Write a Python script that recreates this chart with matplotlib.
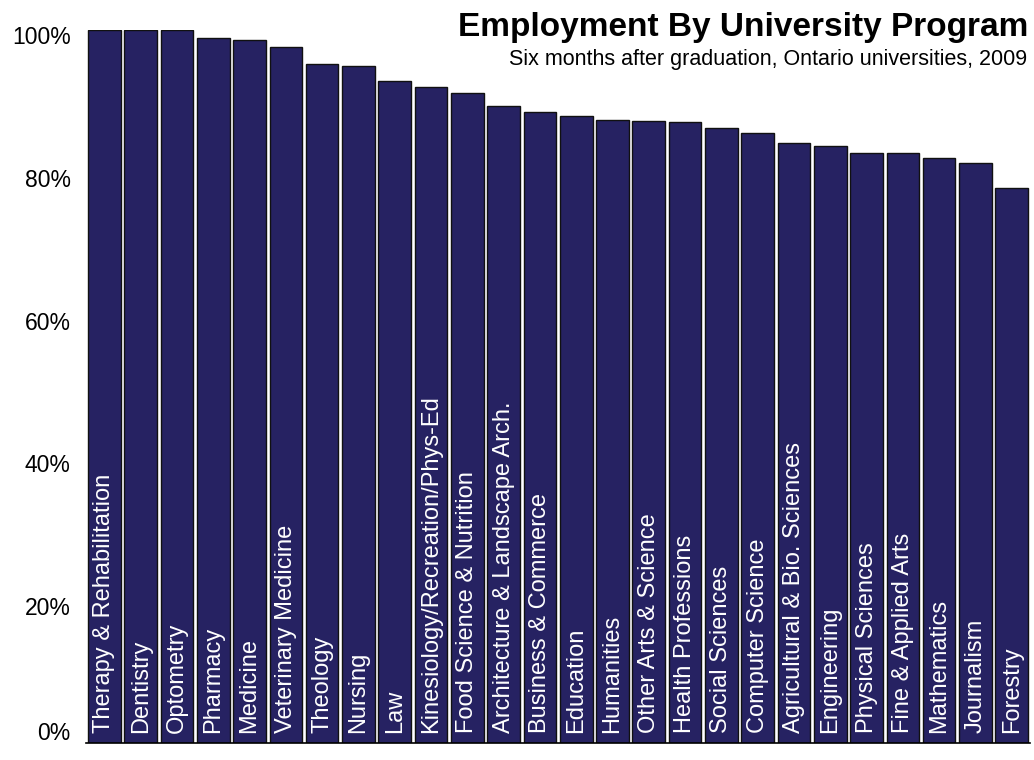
import matplotlib
matplotlib.use("Agg")
import matplotlib.pyplot as plt
import matplotlib.transforms as mtransforms

plt.rcParams["font.family"] = ["Liberation Sans", "DejaVu Sans"]

programs = [
    "Therapy & Rehabilitation", "Dentistry", "Optometry", "Pharmacy", "Medicine",
    "Veterinary Medicine", "Theology", "Nursing", "Law",
    "Kinesiology/Recreation/Phys-Ed", "Food Science & Nutrition",
    "Architecture & Landscape Arch.", "Business & Commerce", "Education",
    "Humanities", "Other Arts & Science", "Health Professions", "Social Sciences",
    "Computer Science", "Agricultural & Bio. Sciences", "Engineering",
    "Physical Sciences", "Fine & Applied Arts", "Mathematics", "Journalism",
    "Forestry",
]
employed_pct = [
    100.0, 100.0, 100.0, 98.9, 98.6, 97.6, 95.2, 95.0, 92.9, 92.0, 91.2,
    89.4, 88.5, 88.0, 87.3, 87.2, 87.1, 86.2, 85.6, 84.1, 83.7, 82.8, 82.8,
    82.1, 81.4, 77.8,
]
y_ticks = [0, 20, 40, 60, 80, 100]
y_tick_labels = ["0%", "20%", "40%", "60%", "80%", "100%"]

bar_color = "#262262"

fig = plt.figure(figsize=(10.34, 7.6), dpi=100)
ax = fig.add_axes([0.0834, 0.0224, 0.9126, 0.9382])

x = range(len(programs))
ax.bar(x, employed_pct, width=0.9, color=bar_color, edgecolor="#111111", linewidth=1.0)

ax.set_xlim(-0.5, len(programs) - 0.5)
ax.set_ylim(0, 100)

# program names written up the inside of each bar
for i, name in enumerate(programs):
    ax.text(i, 1.4, name, rotation=90, color="white", fontsize=17,
            ha="center", va="bottom")

# axis: only the baseline, percentage labels drawn by hand
for side in ["left", "right", "top"]:
    ax.spines[side].set_visible(False)
ax.spines["bottom"].set_color("black")
ax.spines["bottom"].set_linewidth(1.2)
ax.set_xticks([])
ax.set_yticks([])

ytrans = ax.get_yaxis_transform()
for val, lab in zip(y_ticks, y_tick_labels):
    dy = 9 if val == 0 else -8
    off = mtransforms.ScaledTranslation(0, dy / 100, fig.dpi_scale_trans)
    ax.text(-0.0164, val, lab, transform=ytrans + off, fontsize=16.5,
            ha="right", va="center", color="black")

fig.text(0.9942, 0.9526, "Employment By University Program", fontsize=24,
         fontweight="bold", ha="right", va="baseline")
fig.text(0.9935, 0.9145, "Six months after graduation, Ontario universities, 2009",
         fontsize=15.5, ha="right", va="baseline")

fig.savefig("out.png", dpi=100)
